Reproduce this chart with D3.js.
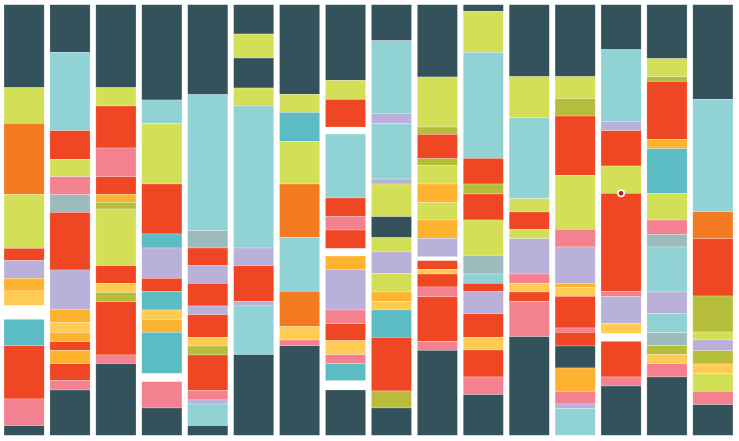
<!DOCTYPE html>
<html>
<head>
<meta charset="utf-8">
<script src="https://cdn.jsdelivr.net/npm/d3@7"></script>
<style>
  html, body { margin: 0; padding: 0; background: #fff; }
  svg { display: block; }
</style>
</head>
<body>
<div id="container"></div>
<script>
const widthSVG = 739,
    heightSVG = 441,
    margin = {top: 4.7, right: 6, bottom: 5.7, left: 4};

// one entry per column, left to right
const columns = ["A","B","C","D","E","F","G","H","I","J","K","L","M","N","O","P"];

// segment categories and their colours ("_" is an empty gap)
const keys = ["d","l","o","r","v","a","y","t","c","p","g","k"];
const colors = ["#34525b","#d3df56","#f47a21","#ef4723","#b9b1d9","#fdb330","#ffcb52","#5bbcc4","#91d3d5","#f4818f","#9dbabd","#b5bd3a"];

// stacked segments top -> bottom, [category, value]
const stacks = [
  [["d",249],["l",107],["o",213],["l",162],["r",37],["v",53],["a",38],["y",43],["_",42],["t",79],["r",160],["p",80],["d",29]],
  [["d",143],["c",235],["r",86],["l",52],["p",54],["g",53],["r",173],["v",118],["a",39],["y",30],["a",28],["r",26],["a",40],["r",51],["p",28],["d",136]],
  [["d",249],["l",55],["r",126],["p",86],["r",53],["a",24],["k",20],["l",170],["r",53],["y",27],["k",28],["r",160],["p",26],["d",215]],
  [["d",286],["c",71],["l",181],["r",150],["t",42],["v",91],["r",39],["t",56],["y",28],["a",39],["t",123],["_",25],["p",79],["d",82]],
  [["d",270],["c",408],["g",52],["r",53],["v",53],["r",68],["v",26],["r",68],["y",26],["k",27],["r",107],["p",28],["v",12],["c",65],["d",29]],
  [["d",88],["l",72],["d",90],["l",54],["c",426],["v",53],["r",107],["v",14],["c",146],["d",242]],
  [["d",269],["l",54],["t",87],["l",128],["o",160],["c",162],["o",106],["y",40],["p",17],["d",269]],
  [["d",227],["l",57],["r",83],["_",21],["c",192],["r",56],["p",40],["r",55],["_",23],["a",40],["v",122],["p",41],["r",51],["y",42],["p",26],["t",52],["_",28],["d",136]],
  [["d",108],["c",218],["v",30],["c",167],["v",15],["l",98],["d",63],["l",43],["v",64],["l",56],["a",28],["y",26],["t",82],["r",161],["k",51],["d",82]],
  [["d",217],["l",150],["k",22],["r",73],["k",21],["l",55],["a",56],["l",52],["a",55],["v",55],["_",12],["r",26],["y",14],["r",39],["p",29],["r",134],["p",27],["d",255]],
  [["d",20],["l",123],["c",318],["r",77],["k",30],["r",78],["l",106],["g",56],["c",28],["r",25],["v",66],["r",71],["y",38],["r",81],["p",53],["d",122]],
  [["d",216],["l",123],["c",243],["l",40],["r",52],["l",28],["v",106],["p",29],["y",25],["r",28],["p",106],["d",296]],
  [["d",216],["l",66],["k",52],["r",178],["l",162],["p",53],["v",109],["a",12],["y",27],["r",95],["p",13],["r",41],["d",66],["a",70],["p",38],["v",14],["c",80]],
  [["d",135],["c",215],["v",28],["r",106],["l",82],["r",295],["p",15],["v",80],["y",30],["_",24],["r",107],["p",27],["d",148]],
  [["d",162],["l",54],["k",14],["r",174],["a",28],["t",135],["l",79],["p",43],["g",38],["c",135],["v",65],["c",57],["g",39],["k",27],["y",27],["p",40],["d",175]],
  [["d",284],["c",337],["o",81],["r",172],["k",108],["l",24],["v",32],["k",40],["y",28],["l",54],["p",40],["d",92]]
];

// highlighted point: column and stacked value
const markerColumn = "N";
const markerValue = 566;

const color = d3.scaleOrdinal().domain(keys).range(colors);

// flatten into rects with running offsets
const cells = [];
stacks.forEach((segs, i) => {
  let y0 = 0;
  segs.forEach(([k, v]) => {
    cells.push({col: columns[i], key: k, y0: y0, y1: y0 + v});
    y0 += v;
  });
});

const xScale = d3.scaleBand()
  .domain(columns)
  .range([margin.left, widthSVG - margin.right])
  .paddingInner(0.125)
  .paddingOuter(0);

const yScale = d3.scaleLinear()
  .domain([0, d3.max(stacks, s => d3.sum(s, d => d[1]))])
  .range([margin.top, heightSVG - margin.bottom]);

const svg = d3.select('#container')
  .append('svg')
  .attr('width', widthSVG)
  .attr('height', heightSVG);

svg.append('g')
  .selectAll('rect')
  .data(cells.filter(d => d.key !== "_"))
  .enter()
  .append('rect')
  .attr('x', d => xScale(d.col))
  .attr('y', d => yScale(d.y0))
  .attr('width', xScale.bandwidth())
  .attr('height', d => yScale(d.y1) - yScale(d.y0))
  .attr('fill', d => color(d.key))
  .attr('stroke', '#fff')
  .attr('stroke-width', 0.5)
  .attr('stroke-opacity', 0.5);

// marker dot
svg.append('circle')
  .attr('cx', xScale(markerColumn) + xScale.bandwidth() / 2)
  .attr('cy', yScale(markerValue))
  .attr('r', 3.2)
  .attr('fill', '#bb203a')
  .attr('stroke', '#fff')
  .attr('stroke-width', 1.6);
</script>
</body>
</html>
